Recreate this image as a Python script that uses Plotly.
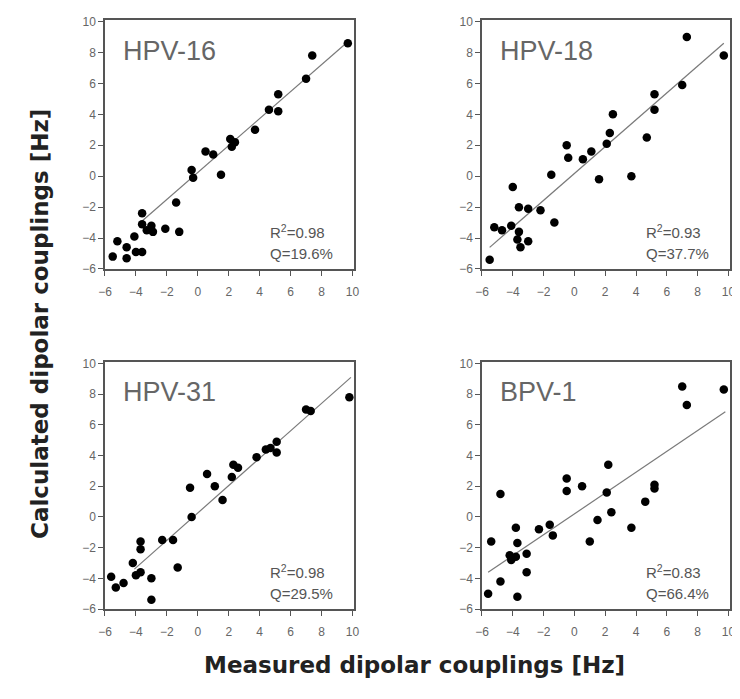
#!/usr/bin/env python3

### Calculated vs measured dipolar couplings, four panels

import plotly.graph_objects as go

# panel names and fit statistics
names = ["HPV-16", "HPV-18", "HPV-31", "BPV-1"]
r2 = ["0.98", "0.93", "0.98", "0.83"]
q = ["19.6%", "37.7%", "29.5%", "66.4%"]

# HPV-16
x16 = [9.7, 7.4, 7.0, 5.2, 4.6, 5.2, 3.7, 2.1, 2.4, 2.2, 0.5, 1.0, 1.5, -0.4, -0.3, -1.4,
       -1.2, -2.1, -3.6, -3.6, -3.0, -3.3, -2.9, -4.1, -3.6, -4.0, -5.2, -4.6, -4.6, -5.5]
y16 = [8.6, 7.8, 6.3, 5.3, 4.3, 4.2, 3.0, 2.4, 2.2, 1.9, 1.6, 1.4, 0.1, 0.4, -0.1, -1.7,
       -3.6, -3.4, -2.4, -3.1, -3.2, -3.5, -3.6, -3.9, -4.9, -4.9, -4.2, -4.6, -5.3, -5.2]
fit16_x = [-3.6, 9.7]
fit16_y = [-2.9, 8.7]

# HPV-18
x18 = [7.3, 9.7, 7.0, 5.2, 5.2, 4.7, 3.7, 2.5, 2.3, 2.1, 1.1, 0.55, 1.6, -0.5, -0.4, -1.5,
       -1.3, -2.2, -3.0, -3.6, -4.0, -4.1, -3.6, -3.7, -3.5, -3.0, -4.7, -5.2, -5.5]
y18 = [9.0, 7.8, 5.9, 5.3, 4.3, 2.5, 0.0, 4.0, 2.8, 2.1, 1.6, 1.1, -0.2, 2.0, 1.2, 0.1,
       -3.0, -2.2, -2.1, -2.0, -0.7, -3.2, -3.6, -4.1, -4.6, -4.2, -3.5, -3.3, -5.4]
fit18_x = [-5.5, 9.7]
fit18_y = [-4.6, 8.6]

# HPV-31
x31 = [9.8, 7.0, 7.3, 5.1, 5.1, 4.7, 4.4, 3.8, 2.3, 2.6, 2.2, 1.1, 1.6, 0.6, -0.5, -0.4,
       -1.6, -2.3, -1.3, -3.7, -3.7, -3.7, -4.2, -4.0, -3.0, -3.0, -4.8, -5.3, -5.6]
y31 = [7.8, 7.0, 6.9, 4.9, 4.2, 4.5, 4.4, 3.9, 3.4, 3.2, 2.6, 2.0, 1.1, 2.8, 1.9, 0.0,
       -1.5, -1.5, -3.3, -1.6, -2.1, -3.6, -3.0, -3.8, -4.0, -5.4, -4.3, -4.6, -3.9]
fit31_x = [-4.1, 9.9]
fit31_y = [-3.4, 9.1]

# BPV-1
xb1 = [7.0, 9.7, 7.3, 2.2, 2.1, 2.4, 5.2, 5.2, 4.6, 3.7, 1.5, 1.0, 0.5, -0.5, -0.5, -1.6,
       -1.4, -2.3, -3.8, -3.7, -4.8, -5.4, -3.1, -3.1, -4.2, -4.1, -3.8, -4.8, -3.7, -5.6]
yb1 = [8.5, 8.3, 7.3, 3.4, 1.6, 0.3, 2.1, 1.85, 1.0, -0.7, -0.2, -1.6, 2.0, 2.5, 1.7, -0.5,
       -1.2, -0.8, -0.7, -1.7, 1.5, -1.6, -2.4, -3.6, -2.5, -2.8, -2.6, -4.2, -5.2, -5.0]
fitb1_x = [-5.6, 9.8]
fitb1_y = [-3.6, 6.85]

ticks = [-6, -4, -2, 0, 2, 4, 6, 8, 10]

panels = [(x16, y16, fit16_x, fit16_y), (x18, y18, fit18_x, fit18_y),
          (x31, y31, fit31_x, fit31_y), (xb1, yb1, fitb1_x, fitb1_y)]

# panel positions (paper fractions); page body adds an 8px offset
xdom = [[0.1325, 0.4727], [0.6475, 0.9863]]
ydom = [[0.6223, 0.9826], [0.1302, 0.4877]]

fig = go.Figure()
layout = dict(width=732, height=691, margin=dict(l=0, r=0, t=0, b=0, autoexpand=False),
              paper_bgcolor='white', plot_bgcolor='white', showlegend=False)
annotations = []

for i, (px, py, fx, fy) in enumerate(panels):
    n = '' if i == 0 else str(i + 1)
    xa, ya = 'x' + n, 'y' + n

    # regression line
    fig.add_trace(go.Scatter(x=fx, y=fy, mode='lines', xaxis=xa, yaxis=ya,
                             line=dict(color='#7a7a7a', width=1.2)))
    # data points
    fig.add_trace(go.Scatter(x=px, y=py, mode='markers', xaxis=xa, yaxis=ya,
                             marker=dict(color='black', size=8.5)))

    axis_style = dict(showgrid=False, zeroline=False, showline=True, mirror=True,
                      linecolor='#555', linewidth=1.5, ticks='outside', ticklen=5,
                      tickcolor='#555', tickvals=ticks, automargin=False,
                      ticklabeloverflow='allow',
                      tickfont=dict(family='Liberation Sans, Arial', size=12, color='#666'))
    layout['xaxis' + n] = dict(axis_style, domain=xdom[i % 2], range=[-6, 10.1],
                               anchor=ya, ticklabelstandoff=6)
    layout['yaxis' + n] = dict(axis_style, domain=ydom[i // 2], range=[-6, 10.1],
                               anchor=xa)

    # panel label
    annotations.append(dict(text=names[i], xref=xa + ' domain', yref=ya + ' domain',
                            x=0.065, y=0.877, xanchor='left', yanchor='middle',
                            showarrow=False,
                            font=dict(family='Liberation Sans, Arial', size=27, color='#666')))
    # stats
    annotations.append(dict(text='R<sup>2</sup>=' + r2[i], xref=xa + ' domain',
                            yref=ya + ' domain', x=0.655, y=0.15, xanchor='left',
                            yanchor='middle', showarrow=False,
                            font=dict(family='Liberation Sans, Arial', size=15, color='#555')))
    annotations.append(dict(text='Q=' + q[i], xref=xa + ' domain', yref=ya + ' domain',
                            x=0.655, y=0.062, xanchor='left', yanchor='middle',
                            showarrow=False,
                            font=dict(family='Liberation Sans, Arial', size=15, color='#555')))

# axis titles
annotations.append(dict(text='<b>Measured dipolar couplings [Hz]</b>', xref='paper',
                        yref='paper', x=0.556, y=0.0275, showarrow=False,
                        font=dict(family='DejaVu Sans', size=23, color='#222')))
annotations.append(dict(text='<b>Calculated dipolar couplings [Hz]</b>', xref='paper',
                        yref='paper', x=0.0232, y=0.5427, textangle=-90, showarrow=False,
                        font=dict(family='DejaVu Sans', size=23, color='#222')))

layout['annotations'] = annotations
fig.update_layout(**layout)

fig.write_html("out.html")
